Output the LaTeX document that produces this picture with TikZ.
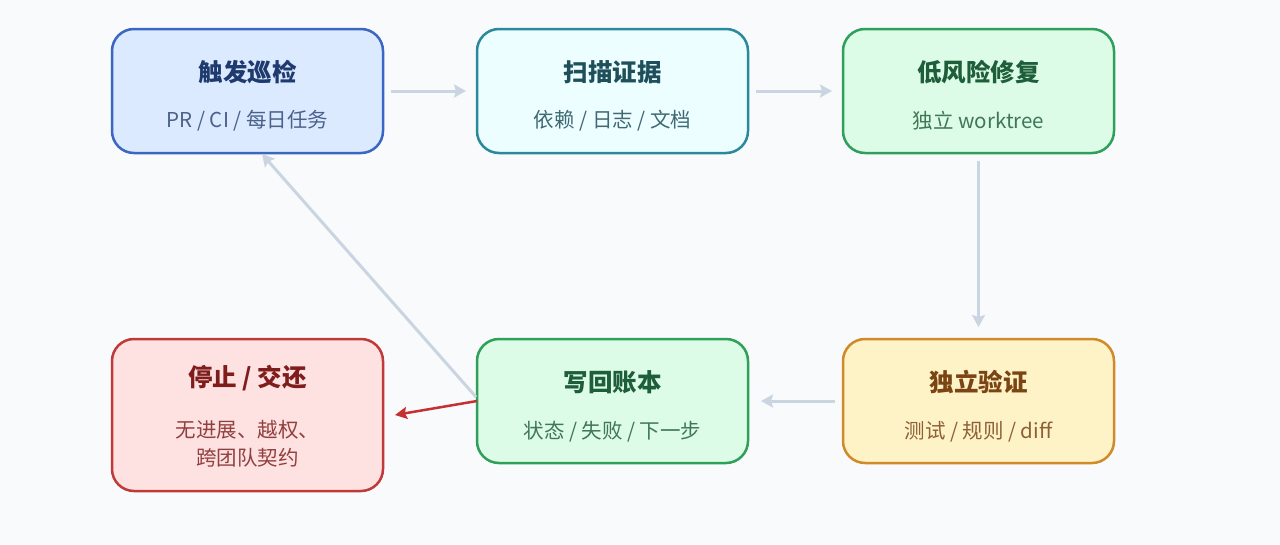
\documentclass[tikz,border=0pt]{standalone}
\usepackage{fontspec}
\setmainfont{Noto Sans CJK SC}
\usetikzlibrary{arrows.meta,calc}
\definecolor{bgc}{HTML}{F8FAFC}
\definecolor{arrowc}{HTML}{CBD5E1}
\definecolor{redarrow}{HTML}{C53030}
\definecolor{bluefill}{HTML}{DBEAFE}\definecolor{blueline}{HTML}{3B67C2}\definecolor{bluetext}{HTML}{1E3A6E}
\definecolor{cyanfill}{HTML}{ECFEFF}\definecolor{cyanline}{HTML}{2B8A9A}\definecolor{cyantext}{HTML}{1F4F5A}
\definecolor{greenfill}{HTML}{DCFCE7}\definecolor{greenline}{HTML}{2EA05A}\definecolor{greentext}{HTML}{1F5E3A}
\definecolor{yelfill}{HTML}{FEF3C7}\definecolor{yelline}{HTML}{D08A2A}\definecolor{yeltext}{HTML}{7A4414}
\definecolor{redfill}{HTML}{FEE2E2}\definecolor{redline}{HTML}{C03A3A}\definecolor{redtext}{HTML}{7F1D1D}
\begin{document}
\begin{tikzpicture}[x=1pt,y=-1pt,
  box/.style={line width=2.5pt, rounded corners=22pt, minimum width=271pt, minimum height=124pt, inner sep=0pt, outer sep=0pt},
  ttl/.style={font=\fontsize{24.5}{28}\selectfont\bfseries, anchor=center},
  sub/.style={font=\fontsize{20.5}{28}\selectfont, anchor=center, align=center},
  flow/.style={draw=arrowc, line width=3pt, -{Stealth[length=12pt,width=13pt,inset=2pt]}},
  redflow/.style={draw=redarrow, line width=2.5pt, -{Stealth[length=12pt,width=12pt,inset=2pt]}}]
\fill[bgc] (0,0) rectangle (1280,544);
\useasboundingbox (0,0) rectangle (1280,544);

\node[box, draw=blueline, fill=bluefill] (b1) at (247.5,91) {};
\node[box, draw=cyanline, fill=cyanfill] (b2) at (612.5,91) {};
\node[box, draw=greenline, fill=greenfill] (b3) at (978.5,91) {};
\node[box, draw=yelline, fill=yelfill] (b4) at (978.5,401) {};
\node[box, draw=greenline, fill=greenfill] (b5) at (612.5,401) {};
\node[box, draw=redline, fill=redfill, minimum height=152pt] (b6) at (247.5,415) {};

\node[ttl, text=bluetext] (t1) at (247.5,72) {触发巡检};
\node[sub, text=bluetext!80!white] (s1) at (247.5,121) {PR / CI / 每日任务};
\node[ttl, text=cyantext] (t2) at (612.5,72) {扫描证据};
\node[sub, text=cyantext!85!white] (s2) at (612.5,121) {依赖 / 日志 / 文档};
\node[ttl, text=greentext] (t3) at (978.5,72) {低风险修复};
\node[sub, text=greentext!85!white] (s3) at (978.5,121) {独立 worktree};
\node[ttl, text=yeltext] (t4) at (978.5,382) {独立验证};
\node[sub, text=yeltext!85!white] (s4) at (978.5,432) {测试 / 规则 / diff};
\node[ttl, text=greentext] (t5) at (612.5,382) {写回账本};
\node[sub, text=greentext!85!white] (s5) at (612.5,432) {状态 / 失败 / 下一步};
\node[ttl, text=redtext] (t6) at (247.5,378) {停止 / 交还};
\node[sub, text=redtext!85!white] (s6) at (247.5,444) {无进展、越权、\\跨团队契约};

\draw[flow] ($(b1.east)+(8,0)$) -- ($(b2.west)+(-11,0)$);
\draw[flow] ($(b2.east)+(8,0)$) -- ($(b3.west)+(-11,0)$);
\draw[flow] ($(b3.south)+(0,8)$) -- ($(b4.north)+(0,-12)$);
\draw[flow] ($(b4.west)+(-8,0)$) -- ($(b5.east)+(13,0)$);
\draw[flow] ($(b5.west)+(-1,-4)$) -- ($(b1.south)+(14.5,1)$);
\draw[redflow] ($(b5.west)+(0,0)$) -- ($(b6.east)+(12,0)$);
\end{tikzpicture}
\end{document}
